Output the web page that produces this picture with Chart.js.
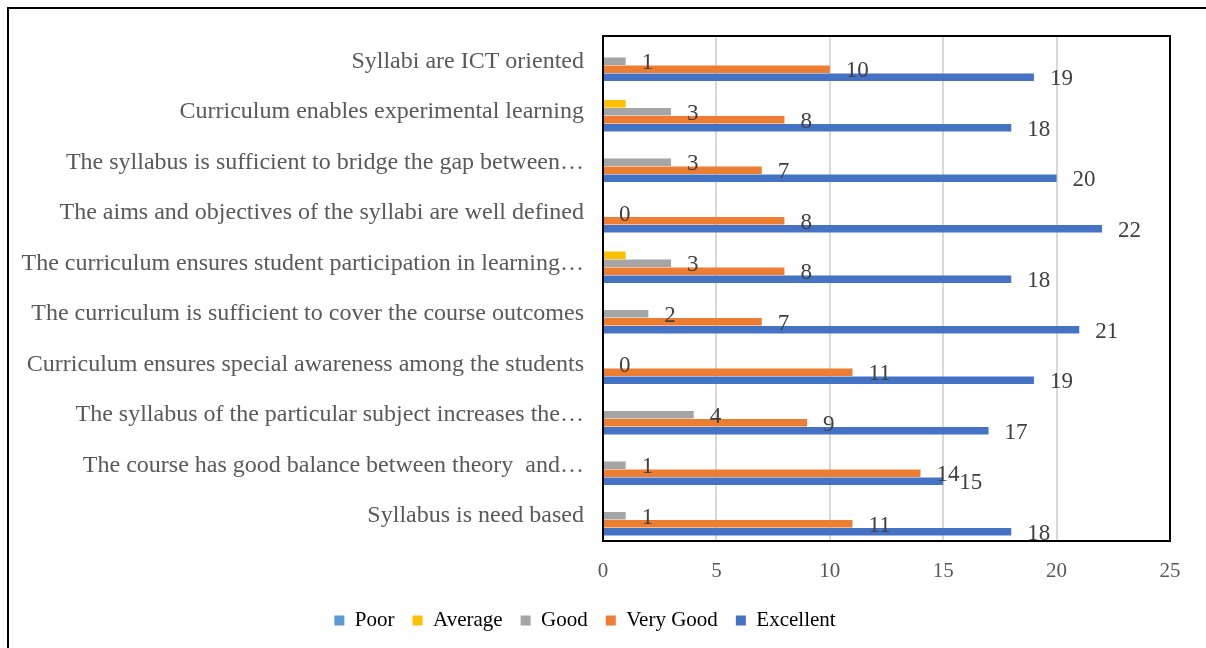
<!DOCTYPE html>
<html>
<head>
<meta charset="utf-8">
<script src="https://cdn.jsdelivr.net/npm/chart.js@4"></script>
<style>
  html, body { margin: 0; padding: 0; background: #fff; }
  #wrap { position: relative; width: 1206px; height: 648px; }
</style>
</head>
<body>
<div id="wrap"><canvas id="myChart" width="1206" height="648"></canvas></div>
<script>
const categories = [
  'Syllabi are ICT oriented',
  'Curriculum enables experimental learning',
  'The syllabus is sufficient to bridge the gap between…',
  'The aims and objectives of the syllabi are well defined',
  'The curriculum ensures student participation in learning…',
  'The curriculum is sufficient to cover the course outcomes',
  'Curriculum ensures special awareness among the students',
  'The syllabus of the particular subject increases the…',
  'The course has good balance between theory  and…',
  'Syllabus is need based'
]
const poor     = [0, 0, 0, 0, 0, 0, 0, 0, 0, 0]
const average  = [0, 1, 0, 0, 1, 0, 0, 0, 0, 0]
const good     = [1, 3, 3, 0, 3, 2, 0, 4, 1, 1]
const veryGood = [10, 8, 7, 8, 8, 7, 11, 9, 14, 11]
const excellent = [19, 18, 20, 22, 18, 21, 19, 17, 15, 18]
const xTicks = [0, 5, 10, 15, 20, 25]

const serif = "'Liberation Serif', 'Times New Roman', serif"

// data labels for Good / Very Good / Excellent, plus the frames
const extras = {
  id: 'extras',
  beforeDraw(chart) {
    const ctx = chart.ctx
    ctx.save()
    ctx.strokeStyle = '#000'
    ctx.lineWidth = 2
    ctx.beginPath()
    ctx.moveTo(8, 648)
    ctx.lineTo(8, 8)
    ctx.lineTo(1206, 8)
    ctx.stroke()
    ctx.restore()
  },
  afterDatasetsDraw(chart) {
    const ctx = chart.ctx
    const a = chart.chartArea
    ctx.save()
    ctx.strokeStyle = '#000'
    ctx.lineWidth = 2
    ctx.strokeRect(a.left, a.top, a.right - a.left, a.bottom - a.top)

    ctx.fillStyle = '#404040'
    ctx.font = '23px ' + serif
    ctx.textAlign = 'left'
    ctx.textBaseline = 'middle'
    ;[2, 3, 4].forEach(i => {
      const meta = chart.getDatasetMeta(i)
      meta.data.forEach((bar, j) => {
        ctx.fillText(String(chart.data.datasets[i].data[j]), bar.x + 16, bar.y + 2)
      })
    })
    ctx.restore()
  }
}

new Chart(document.getElementById('myChart').getContext('2d'), {
  type: 'bar',
  data: {
    labels: categories,
    datasets: [
      { label: 'Poor', data: poor, backgroundColor: '#5B9BD5' },
      { label: 'Average', data: average, backgroundColor: '#FFC000' },
      { label: 'Good', data: good, backgroundColor: '#A5A5A5' },
      { label: 'Very Good', data: veryGood, backgroundColor: '#ED7D31' },
      { label: 'Excellent', data: excellent, backgroundColor: '#4472C4' }
    ]
  },
  options: {
    indexAxis: 'y',
    responsive: false,
    animation: false,
    barPercentage: 0.95,
    categoryPercentage: 0.79,
    layout: { padding: { top: 36, right: 36, bottom: 7, left: 0 } },
    scales: {
      x: {
        min: 0,
        max: 25,
        afterBuildTicks(scale) {
          scale.ticks = xTicks.map(v => ({ value: v }))
        },
        afterFit(scale) { scale.height = 51 },
        grid: { color: '#d9d9d9', lineWidth: 2, drawTicks: false },
        border: { display: false },
        ticks: { color: '#595959', padding: 18, font: { family: serif, size: 21 } }
      },
      y: {
        afterFit(scale) { scale.width = 603 },
        grid: { display: false, drawTicks: false },
        border: { display: false },
        ticks: { color: '#595959', padding: 19, autoSkip: false, font: { family: serif, size: 24 } }
      }
    },
    plugins: {
      tooltip: { enabled: false },
      legend: {
        position: 'bottom',
        labels: {
          color: '#000',
          boxWidth: 10,
          boxHeight: 10,
          padding: 18,
          font: { family: serif, size: 21 }
        }
      }
    }
  },
  plugins: [extras]
})
</script>
</body>
</html>
